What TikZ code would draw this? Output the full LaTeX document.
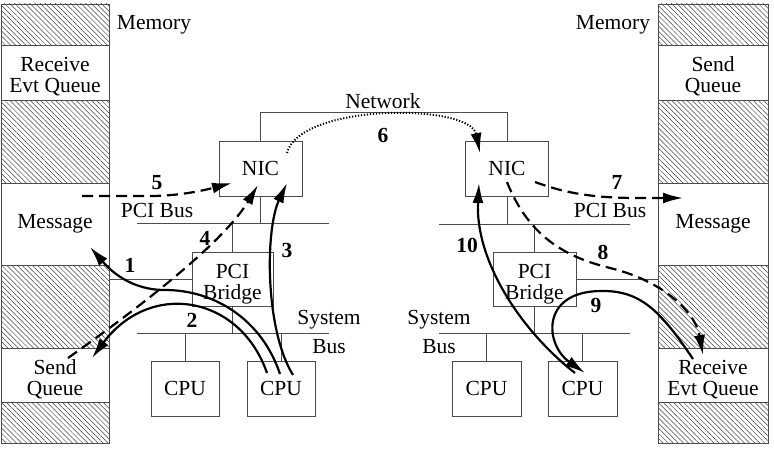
\documentclass[tikz,border=0pt]{standalone}
\usepackage{fontspec}
\setmainfont{Liberation Serif}
\usetikzlibrary{arrows.meta,patterns.meta}
\newcommand{\lowtext}[1]{\raisebox{-5.5pt}[\height][\depth]{\begin{tabular}{@{}c@{}}#1\end{tabular}}}

\begin{document}
\begin{tikzpicture}[x=1pt,y=-1pt,
  every node/.style={font=\fontsize{21.5}{21}\selectfont},
  box/.style={draw=black!70,line width=0.9pt,inner sep=0pt,align=center},
  hatch/.style={draw=black!70,line width=0.9pt,inner sep=0pt,pattern={Lines[angle=-45,distance=3.6pt,line width=0.5pt]},pattern color=black!75},
  wire/.style={draw=black!70,line width=0.9pt},
  flow/.style={line width=2.2pt,-{Latex[length=20pt,width=11pt]}},
  dashflow/.style={flow,dash pattern=on 11pt off 6pt},
  dotflow/.style={flow,line width=2pt,dash pattern=on 1.2pt off 1.8pt},
  num/.style={font=\fontsize{21.5}{21}\selectfont\bfseries}]
                \useasboundingbox (0,0) rectangle (774,452);
                \node[hatch,minimum width=108pt,minimum height=41pt] (lh1) at (55,24.5) {};
                \node[box,minimum width=108pt,minimum height=55pt] (lrq) at (55,72.5) {\lowtext{Receive\\Evt Queue}};
                \node[hatch,minimum width=108pt,minimum height=83pt] (lh2) at (55,141.5) {};
                \node[box,minimum width=108pt,minimum height=82pt] (lmsg) at (55,224) {Message};
                \node[hatch,minimum width=108pt,minimum height=83pt] (lh3) at (55,306.5) {};
                \node[box,minimum width=108pt,minimum height=54pt] (lsq) at (55,375) {\lowtext{Send\\Queue}};
                \node[hatch,minimum width=108pt,minimum height=41pt] (lh4) at (55,422.5) {};
                \node[hatch,minimum width=110pt,minimum height=41pt] (rh1) at (713,24.5) {};
                \node[box,minimum width=110pt,minimum height=55pt] (rsq) at (713,72.5) {\lowtext{Send\\Queue}};
                \node[hatch,minimum width=110pt,minimum height=83pt] (rh2) at (713,141.5) {};
                \node[box,minimum width=110pt,minimum height=82pt] (rmsg) at (713,224) {Message};
                \node[hatch,minimum width=110pt,minimum height=83pt] (rh3) at (713,306.5) {};
                \node[box,minimum width=110pt,minimum height=54pt] (rrq) at (713,375) {\lowtext{Receive\\Evt Queue}};
                \node[hatch,minimum width=110pt,minimum height=41pt] (rh4) at (713,422.5) {};
                \node[box,minimum width=83pt,minimum height=55pt] (nicL) at (260.5,168.5) {NIC};
                \node[box,minimum width=83pt,minimum height=55pt] (nicR) at (507,168.5) {NIC};
                \node[box,minimum width=81pt,minimum height=54pt] (brL) at (232.5,279) {\lowtext{PCI\\Bridge}};
                \node[box,minimum width=83pt,minimum height=54pt] (brR) at (534.5,279) {\lowtext{PCI\\Bridge}};
                \node[box,minimum width=68pt,minimum height=55pt] (cpuL1) at (185,388.5) {CPU};
                \node[box,minimum width=68pt,minimum height=55pt] (cpuL2) at (281,388.5) {CPU};
                \node[box,minimum width=69pt,minimum height=55pt] (cpuR1) at (486.5,388.5) {CPU};
                \node[box,minimum width=69pt,minimum height=55pt] (cpuR2) at (582.5,388.5) {CPU};
                \node (memL) at (154,25) {Memory};
                \node (memR) at (613,25) {Memory};
                \node (net) at (383,101) {Network};
                \node (pcibL) at (157,210) {PCI Bus};
                \node (pcibR) at (610,210) {PCI Bus};
                \node (sysL) at (329,320) {System};
                \node (busL) at (329,347) {Bus};
                \node (sysR) at (439,320) {System};
                \node (busR) at (439,347) {Bus};
                \coordinate (pciL0) at (137,223);
                \coordinate (pciL1) at (329,223);
                \coordinate (sbL0) at (137,333);
                \coordinate (sbL1) at (329,333);
                \coordinate (pciR0) at (439,224);
                \coordinate (pciR1) at (630,224);
                \coordinate (sbR0) at (439,333);
                \coordinate (sbR1) at (630,333);
                \draw[wire] (pciL0) -- (pciL1);
                \draw[wire] (sbL0) -- (sbL1);
                \draw[wire] (pciR0) -- (pciR1);
                \draw[wire] (sbR0) -- (sbR1);
                \draw[wire] (nicL.north) -- ++(0,-28) -| (nicR.north);
                \draw[wire] (nicL.south) -- (nicL.south |- pciL0);
                \draw[wire] (nicR.south) -- (nicR.south |- pciR0);
                \draw[wire] (brL.north) -- (brL.north |- pciL0);
                \draw[wire] (brR.north) -- (brR.north |- pciR0);
                \draw[wire] (brL.south) -- (brL.south |- sbL0);
                \draw[wire] (brR.south) -- (brR.south |- sbR0);
                \draw[wire] (brL.west) -- (brL.west -| lh3.east);
                \draw[wire] (brR.east) -- (brR.east -| rh3.west);
                \draw[wire] (cpuL1.north) -- (cpuL1.north |- sbL0);
                \draw[wire] (cpuL2.north) -- (cpuL2.north |- sbL0);
                \draw[wire] (cpuR1.north) -- (cpuR1.north |- sbR0);
                \draw[wire] (cpuR2.north) -- (cpuR2.north |- sbR0);
                \coordinate (a1s) at (280,374);
                \coordinate (a1e) at (90,247);
                \coordinate (a2s) at (267,373);
                \coordinate (a2e) at (92,358);
                \coordinate (a3s) at (293,375);
                \coordinate (a3e) at (287,183);
                \coordinate (a4s) at (68,358);
                \coordinate (a4e) at (258,185);
                \coordinate (a5s) at (82,196);
                \coordinate (a5e) at (232,183);
                \coordinate (a6s) at (287,153);
                \coordinate (a6e) at (480,153);
                \coordinate (a7s) at (535,182);
                \coordinate (a7e) at (683,198);
                \coordinate (a8s) at (507,182);
                \coordinate (a8e) at (703,355);
                \coordinate (a9s) at (693,359);
                \coordinate (a9e) at (585,373);
                \coordinate (a10s) at (575,373);
                \coordinate (a10e) at (479,183);
                \draw[flow] (a1s) .. controls (262,320) and (215,290) .. (165,290) .. controls (130,290) and (110,270) .. (a1e);
                \draw[flow] (a2s) .. controls (240,295) and (150,280) .. (a2e);
                \draw[flow] (a3s) .. controls (265,330) and (265,230) .. (a3e);
                \draw[dashflow] (a4s) .. controls (150,300) and (225,240) .. (a4e);
                \draw[dashflow] (a5s) -- (150,196) .. controls (180,196) and (205,190) .. (a5e);
                \draw[dotflow] (a6s) .. controls (300,103) and (470,103) .. (a6e);
                \draw[dashflow] (a7s) .. controls (570,195) and (600,198) .. (640,198) -- (a7e);
                \draw[dashflow] (a8s) .. controls (530,240) and (570,258) .. (610,268) .. controls (660,280) and (695,310) .. (a8e);
                \draw[flow] (a9s) .. controls (660,310) and (640,290) .. (600,291) .. controls (540,292) and (545,345) .. (a9e);
                \draw[flow] (a10s) .. controls (520,330) and (475,260) .. (a10e);
                \node[num] (n1) at (130,265) {1};
                \node[num] (n2) at (192,320) {2};
                \node[num] (n3) at (287,250) {3};
                \node[num] (n4) at (205,238) {4};
                \node[num] (n5) at (157,183) {5};
                \node[num] (n6) at (383,135) {6};
                \node[num] (n7) at (617,182) {7};
                \node[num] (n8) at (603,252) {8};
                \node[num] (n9) at (596,305) {9};
                \node[num] (n10) at (467,245) {10};
            \end{tikzpicture}
\end{document}
